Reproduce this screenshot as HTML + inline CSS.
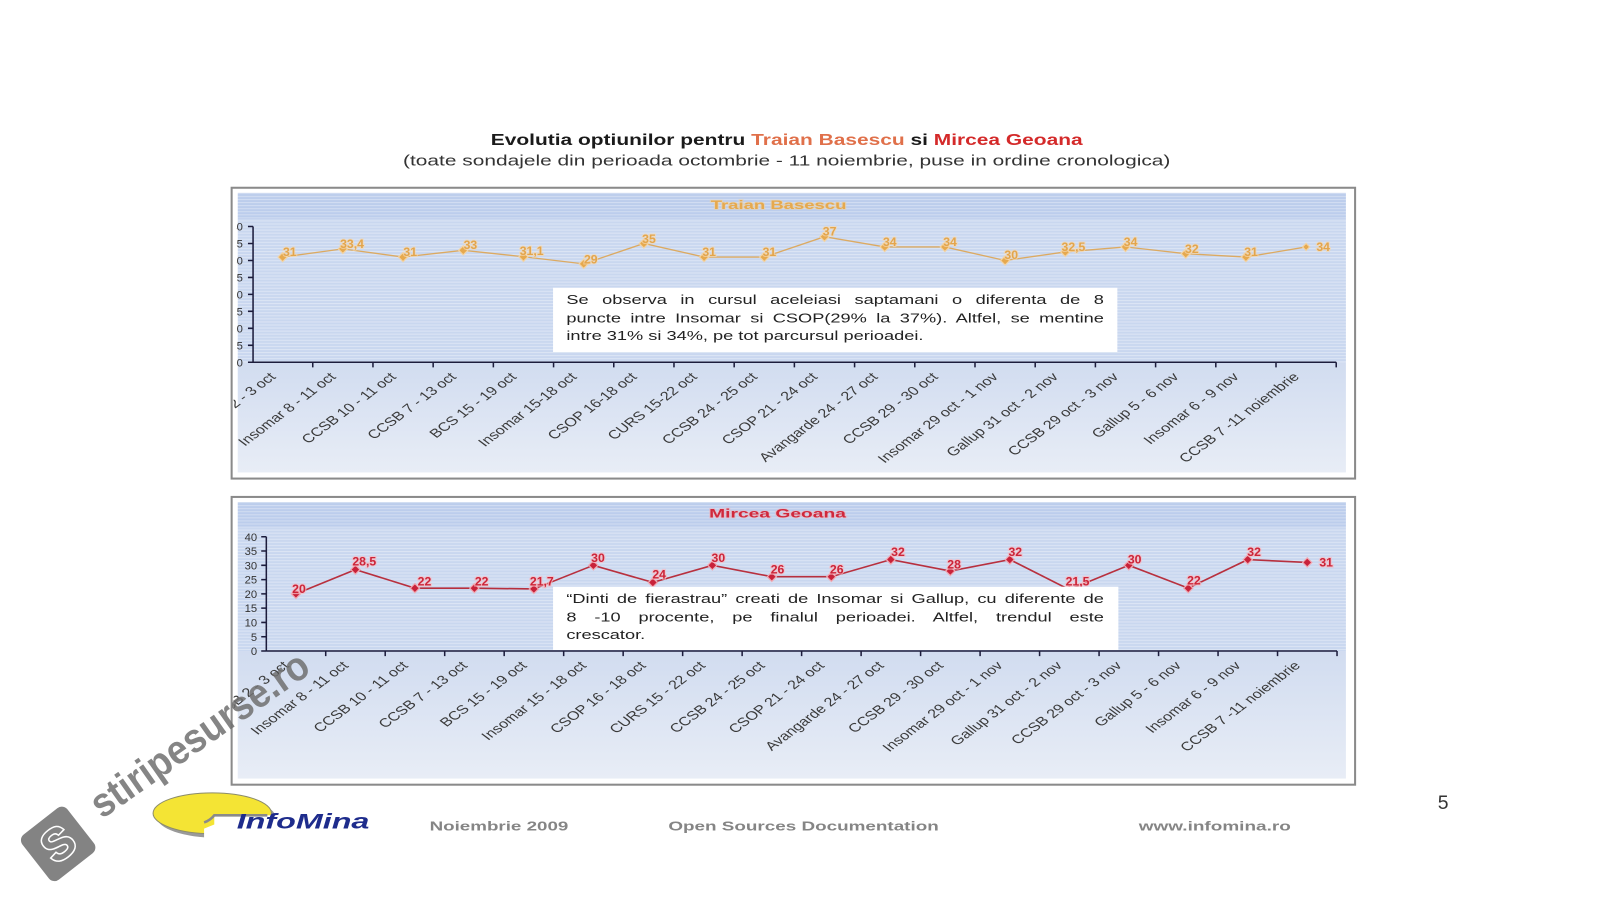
<!DOCTYPE html>
<html>
<head>
<meta charset="utf-8">
<style>
  html,body{margin:0;padding:0;background:#fff;}
  body{width:1600px;height:900px;position:relative;overflow:hidden;font-family:"Liberation Sans",Arial,sans-serif;}
  #wrap{position:absolute;left:0;top:0;width:1600px;height:900px;transform-origin:0 0;transform:scale(1.0204);}
  svg{position:absolute;left:0;top:0;}
  .note{position:absolute;font-family:"Liberation Sans",Arial,sans-serif;font-size:13px;color:#222;transform-origin:0 0;transform:scaleX(1.372);width:384px;line-height:17.5px;}
  .note div{text-align:justify;text-align-last:justify;white-space:normal;}
  .note div.last{text-align-last:left;}
</style>
</head>
<body>
<div id="wrap">
<svg width="1600" height="900" viewBox="0 0 1600 900" xmlns="http://www.w3.org/2000/svg" font-family="Liberation Sans, Arial, sans-serif">
  <defs>
    <pattern id="plotst" width="4" height="3" patternUnits="userSpaceOnUse">
      <rect width="4" height="3" fill="#c9d7ef"/>
      <rect width="4" height="1" fill="#dce5f5"/>
    </pattern>
    <pattern id="bandst" width="4" height="3" patternUnits="userSpaceOnUse">
      <rect width="4" height="3" fill="#bccdec"/>
      <rect width="4" height="1" fill="#d2ddf2"/>
    </pattern>
    <linearGradient id="lblg" x1="0" y1="0" x2="0" y2="1">
      <stop offset="0" stop-color="#d1dcf0"/>
      <stop offset="1" stop-color="#e8edf6"/>
    </linearGradient>
    <clipPath id="clipTop"><rect x="229" y="188" width="1092" height="277"/></clipPath>
    <clipPath id="clipYTop"><rect x="231.5" y="188" width="100" height="200"/></clipPath>
    <clipPath id="clipBot"><rect x="229" y="491" width="1092" height="274"/></clipPath>
  </defs>

  <text x="481" y="142" font-size="15" font-weight="bold" fill="#1a1a1a" textLength="580" lengthAdjust="spacingAndGlyphs">Evolutia optiunilor pentru <tspan fill="#e0704a">Traian Basescu</tspan> si <tspan fill="#d42a2a">Mircea Geoana</tspan></text>
  <text x="395" y="162" font-size="14.5" fill="#333" textLength="752" lengthAdjust="spacingAndGlyphs">(toate sondajele din perioada octombrie - 11 noiembrie, puse in ordine cronologica)</text>

  <!-- ================= TOP CHART ================= -->
  <rect x="227" y="184" width="1101" height="285" fill="#fff" stroke="#8a8a8a" stroke-width="2"/>
  <g clip-path="url(#clipTop)">
    <rect x="233" y="189" width="1086" height="26" fill="url(#bandst)"/>
    <rect x="233" y="215" width="1086" height="140" fill="url(#plotst)"/>
    <rect x="233" y="355" width="1086" height="108" fill="url(#lblg)"/>
    <text x="763" y="205" font-size="12" font-weight="bold" fill="#e6a94e" text-anchor="middle" textLength="133" lengthAdjust="spacingAndGlyphs" stroke="#f0d2a0" stroke-width="1.5" paint-order="stroke" stroke-opacity="0.6">Traian Basescu</text>

    <g font-size="11" fill="#333" text-anchor="end" clip-path="url(#clipYTop)">
      <text x="238" y="226">40</text>
      <text x="238" y="242.6">35</text>
      <text x="238" y="259.3">30</text>
      <text x="238" y="275.9">25</text>
      <text x="238" y="292.5">20</text>
      <text x="238" y="309.1">15</text>
      <text x="238" y="325.8">10</text>
      <text x="238" y="342.4">5</text>
      <text x="238" y="359">0</text>
    </g>
    <g stroke="#1c1c3c" stroke-width="1.5" fill="none">
      <line x1="248" y1="222" x2="248" y2="355"/>
      <line x1="247.5" y1="355" x2="1309.5" y2="355"/>
      <path d="M243 222H248M243 238.6H248M243 255.25H248M243 271.9H248M243 288.5H248M243 305.1H248M243 321.75H248M243 338.4H248M243 355H248"/>
      <path d="M306.5 355V360M365.5 355V360M424.5 355V360M483.5 355V360M542.5 355V360M601.5 355V360M660.5 355V360M719.5 355V360M778.5 355V360M837.5 355V360M896.5 355V360M955.5 355V360M1014.5 355V360M1073.5 355V360M1132.5 355V360M1191.5 355V360M1250.5 355V360M1309.5 355V360"/>
    </g>

    <polyline fill="none" stroke="#dcaa62" stroke-width="1.3" points="277,251.9 336,243.9 395,251.9 454,245.3 513,251.6 572,258.6 631,238.6 690,251.9 749,251.9 808,232 867,242 926,242 985,255.3 1044,246.9 1103,242 1162,248.6 1221,251.9 1280,242"/>
    <g fill="#e6a94e" stroke="#f2d3a4" stroke-width="1.2">
      <path d="M277 247.4l4.5 4.5-4.5 4.5-4.5-4.5z"/>
      <path d="M336 239.4l4.5 4.5-4.5 4.5-4.5-4.5z"/>
      <path d="M395 247.4l4.5 4.5-4.5 4.5-4.5-4.5z"/>
      <path d="M454 240.8l4.5 4.5-4.5 4.5-4.5-4.5z"/>
      <path d="M513 247.1l4.5 4.5-4.5 4.5-4.5-4.5z"/>
      <path d="M572 254.1l4.5 4.5-4.5 4.5-4.5-4.5z"/>
      <path d="M631 234.1l4.5 4.5-4.5 4.5-4.5-4.5z"/>
      <path d="M690 247.4l4.5 4.5-4.5 4.5-4.5-4.5z"/>
      <path d="M749 247.4l4.5 4.5-4.5 4.5-4.5-4.5z"/>
      <path d="M808 227.5l4.5 4.5-4.5 4.5-4.5-4.5z"/>
      <path d="M867 237.5l4.5 4.5-4.5 4.5-4.5-4.5z"/>
      <path d="M926 237.5l4.5 4.5-4.5 4.5-4.5-4.5z"/>
      <path d="M985 250.8l4.5 4.5-4.5 4.5-4.5-4.5z"/>
      <path d="M1044 242.4l4.5 4.5-4.5 4.5-4.5-4.5z"/>
      <path d="M1103 237.5l4.5 4.5-4.5 4.5-4.5-4.5z"/>
      <path d="M1162 244.1l4.5 4.5-4.5 4.5-4.5-4.5z"/>
      <path d="M1221 247.4l4.5 4.5-4.5 4.5-4.5-4.5z"/>
      <path d="M1280 238.5l3.5 3.5-3.5 3.5-3.5-3.5z"/>
    </g>
    <g font-size="12" font-weight="bold" fill="#e3a54c" text-anchor="middle" stroke="#f3d9b2" stroke-width="2" paint-order="stroke" stroke-opacity="0.7">
      <text x="284" y="251">31</text>
      <text x="345" y="243">33,4</text>
      <text x="402" y="251">31</text>
      <text x="461" y="244">33</text>
      <text x="521" y="250">31,1</text>
      <text x="579" y="258">29</text>
      <text x="636" y="238">35</text>
      <text x="695" y="251">31</text>
      <text x="754" y="251">31</text>
      <text x="813" y="231">37</text>
      <text x="872" y="241">34</text>
      <text x="931" y="241">34</text>
      <text x="991" y="254">30</text>
      <text x="1052" y="246">32,5</text>
      <text x="1108" y="241">34</text>
      <text x="1168" y="248">32</text>
      <text x="1226" y="251">31</text>
      <text x="1290" y="246" text-anchor="start">34</text>
    </g>

    <rect x="542" y="282" width="553" height="63" fill="#fff"/>

    <g font-size="12" fill="#3a3a3a" text-anchor="end">
      <text transform="translate(271,370) scale(1.33,1) rotate(-45)">CCSB 2 - 3 oct</text>
      <text transform="translate(330,370) scale(1.33,1) rotate(-45)">Insomar 8 - 11 oct</text>
      <text transform="translate(389,370) scale(1.33,1) rotate(-45)">CCSB 10 - 11 oct</text>
      <text transform="translate(448,370) scale(1.33,1) rotate(-45)">CCSB 7 - 13 oct</text>
      <text transform="translate(507,370) scale(1.33,1) rotate(-45)">BCS 15 - 19 oct</text>
      <text transform="translate(566,370) scale(1.33,1) rotate(-45)">Insomar 15-18 oct</text>
      <text transform="translate(625,370) scale(1.33,1) rotate(-45)">CSOP 16-18 oct</text>
      <text transform="translate(684,370) scale(1.33,1) rotate(-45)">CURS 15-22 oct</text>
      <text transform="translate(743,370) scale(1.33,1) rotate(-45)">CCSB 24 - 25 oct</text>
      <text transform="translate(802,370) scale(1.33,1) rotate(-45)">CSOP 21 - 24 oct</text>
      <text transform="translate(861,370) scale(1.33,1) rotate(-45)">Avangarde 24 - 27 oct</text>
      <text transform="translate(920,370) scale(1.33,1) rotate(-45)">CCSB 29 - 30 oct</text>
      <text transform="translate(979,370) scale(1.33,1) rotate(-45)">Insomar 29 oct - 1 nov</text>
      <text transform="translate(1038,370) scale(1.33,1) rotate(-45)">Gallup 31 oct - 2 nov</text>
      <text transform="translate(1097,370) scale(1.33,1) rotate(-45)">CCSB 29 oct - 3 nov</text>
      <text transform="translate(1156,370) scale(1.33,1) rotate(-45)">Gallup 5 - 6 nov</text>
      <text transform="translate(1215,370) scale(1.33,1) rotate(-45)">Insomar 6 - 9 nov</text>
      <text transform="translate(1274,370) scale(1.33,1) rotate(-45)">CCSB 7 -11 noiembrie</text>
    </g>
  </g>

  <!-- ================= BOTTOM CHART ================= -->
  <rect x="227" y="487" width="1101" height="282" fill="#fff" stroke="#8a8a8a" stroke-width="2"/>
  <g clip-path="url(#clipBot)">
    <rect x="233" y="492" width="1086" height="25" fill="url(#bandst)"/>
    <rect x="233" y="517" width="1086" height="121" fill="url(#plotst)"/>
    <rect x="233" y="638" width="1086" height="125" fill="url(#lblg)"/>
    <text x="762" y="507" font-size="12" font-weight="bold" fill="#d0283c" text-anchor="middle" textLength="134" lengthAdjust="spacingAndGlyphs" stroke="#f0b4bc" stroke-width="1.5" paint-order="stroke" stroke-opacity="0.6">Mircea Geoana</text>

    <g font-size="11" fill="#333" text-anchor="end">
      <text x="252" y="530">40</text>
      <text x="252" y="544">35</text>
      <text x="252" y="558">30</text>
      <text x="252" y="572">25</text>
      <text x="252" y="586">20</text>
      <text x="252" y="600">15</text>
      <text x="252" y="614">10</text>
      <text x="252" y="628">5</text>
      <text x="252" y="642">0</text>
    </g>
    <g stroke="#1c1c3c" stroke-width="1.5" fill="none">
      <line x1="261" y1="526" x2="261" y2="638"/>
      <line x1="260.9" y1="638" x2="1310.3" y2="638"/>
      <path d="M256 526H261M256 540H261M256 554H261M256 568H261M256 582H261M256 596H261M256 610H261M256 624H261M256 638H261"/>
      <path d="M319.2 638V643M377.5 638V643M435.8 638V643M494.1 638V643M552.4 638V643M610.7 638V643M669 638V643M727.3 638V643M785.6 638V643M843.9 638V643M902.2 638V643M960.5 638V643M1018.8 638V643M1077.1 638V643M1135.4 638V643M1193.7 638V643M1252 638V643M1310.3 638V643"/>
    </g>

    <polyline fill="none" stroke="#b8303e" stroke-width="1.6" points="290,582 348.3,558.2 406.6,576.4 464.9,576.4 523.2,577.2 581.5,554 639.8,570.8 698.1,554 756.4,565.2 814.7,565.2 873,548.4 931.3,559.6 989.6,548.4 1047.9,577.8 1106.2,554 1164.5,576.4 1222.8,548.4 1281.1,551.2"/>
    <g fill="#c8223a" stroke="#f0a8b2" stroke-width="1.2">
      <path d="M290 577.5l4.5 4.5-4.5 4.5-4.5-4.5z"/>
      <path d="M348.3 553.7l4.5 4.5-4.5 4.5-4.5-4.5z"/>
      <path d="M406.6 571.9l4.5 4.5-4.5 4.5-4.5-4.5z"/>
      <path d="M464.9 571.9l4.5 4.5-4.5 4.5-4.5-4.5z"/>
      <path d="M523.2 572.7l4.5 4.5-4.5 4.5-4.5-4.5z"/>
      <path d="M581.5 549.5l4.5 4.5-4.5 4.5-4.5-4.5z"/>
      <path d="M639.8 566.3l4.5 4.5-4.5 4.5-4.5-4.5z"/>
      <path d="M698.1 549.5l4.5 4.5-4.5 4.5-4.5-4.5z"/>
      <path d="M756.4 560.7l4.5 4.5-4.5 4.5-4.5-4.5z"/>
      <path d="M814.7 560.7l4.5 4.5-4.5 4.5-4.5-4.5z"/>
      <path d="M873 543.9l4.5 4.5-4.5 4.5-4.5-4.5z"/>
      <path d="M931.3 555.1l4.5 4.5-4.5 4.5-4.5-4.5z"/>
      <path d="M989.6 543.9l4.5 4.5-4.5 4.5-4.5-4.5z"/>
      <path d="M1047.9 573.3l4.5 4.5-4.5 4.5-4.5-4.5z"/>
      <path d="M1106.2 549.5l4.5 4.5-4.5 4.5-4.5-4.5z"/>
      <path d="M1164.5 571.9l4.5 4.5-4.5 4.5-4.5-4.5z"/>
      <path d="M1222.8 543.9l4.5 4.5-4.5 4.5-4.5-4.5z"/>
      <path d="M1281.1 546.7l4.5 4.5-4.5 4.5-4.5-4.5z"/>
    </g>
    <g font-size="12" font-weight="bold" fill="#cc2438" text-anchor="middle" stroke="#f5bcc4" stroke-width="2.2" paint-order="stroke" stroke-opacity="0.75">
      <text x="293" y="581">20</text>
      <text x="357" y="554">28,5</text>
      <text x="416" y="574">22</text>
      <text x="472" y="574">22</text>
      <text x="531" y="574">21,7</text>
      <text x="586" y="551">30</text>
      <text x="646" y="567">24</text>
      <text x="704" y="551">30</text>
      <text x="762" y="562">26</text>
      <text x="820" y="562">26</text>
      <text x="880" y="545">32</text>
      <text x="935" y="557">28</text>
      <text x="995" y="545">32</text>
      <text x="1056" y="574">21,5</text>
      <text x="1112" y="552">30</text>
      <text x="1170" y="573">22</text>
      <text x="1229" y="545">32</text>
      <text x="1293" y="555" text-anchor="start">31</text>
    </g>

    <rect x="542" y="575" width="554" height="62" fill="#fff"/>

    <g font-size="12" fill="#3a3a3a" text-anchor="end">
      <text transform="translate(284,653) scale(1.33,1) rotate(-45)">CCSB 2 - 3 oct</text>
      <text transform="translate(342.3,653) scale(1.33,1) rotate(-45)">Insomar 8 - 11 oct</text>
      <text transform="translate(400.6,653) scale(1.33,1) rotate(-45)">CCSB 10 - 11 oct</text>
      <text transform="translate(458.9,653) scale(1.33,1) rotate(-45)">CCSB 7 - 13 oct</text>
      <text transform="translate(517.2,653) scale(1.33,1) rotate(-45)">BCS 15 - 19 oct</text>
      <text transform="translate(575.5,653) scale(1.33,1) rotate(-45)">Insomar 15 - 18 oct</text>
      <text transform="translate(633.8,653) scale(1.33,1) rotate(-45)">CSOP 16 - 18 oct</text>
      <text transform="translate(692.1,653) scale(1.33,1) rotate(-45)">CURS 15 - 22 oct</text>
      <text transform="translate(750.4,653) scale(1.33,1) rotate(-45)">CCSB 24 - 25 oct</text>
      <text transform="translate(808.7,653) scale(1.33,1) rotate(-45)">CSOP 21 - 24 oct</text>
      <text transform="translate(867,653) scale(1.33,1) rotate(-45)">Avangarde 24 - 27 oct</text>
      <text transform="translate(925.3,653) scale(1.33,1) rotate(-45)">CCSB 29 - 30 oct</text>
      <text transform="translate(983.6,653) scale(1.33,1) rotate(-45)">Insomar 29 oct - 1 nov</text>
      <text transform="translate(1041.9,653) scale(1.33,1) rotate(-45)">Gallup 31 oct - 2 nov</text>
      <text transform="translate(1100.2,653) scale(1.33,1) rotate(-45)">CCSB 29 oct - 3 nov</text>
      <text transform="translate(1158.5,653) scale(1.33,1) rotate(-45)">Gallup 5 - 6 nov</text>
      <text transform="translate(1216.8,653) scale(1.33,1) rotate(-45)">Insomar 6 - 9 nov</text>
      <text transform="translate(1275.1,653) scale(1.33,1) rotate(-45)">CCSB 7 -11 noiembrie</text>
    </g>
  </g>

  <!-- ================= FOOTER ================= -->
  <ellipse cx="212" cy="801" rx="58" ry="20" fill="#9a9a9a"/>
  <ellipse cx="208" cy="797" rx="58" ry="20" fill="#f4e434" stroke="#8c8c6a" stroke-width="1"/>
  <path d="M210 799 H272 V826 H200 V812 Q205 810 210 808 Z" fill="#fff"/>
  <path d="M200 806 Q206 804 210 799 H262" fill="none" stroke="#8a8a8a" stroke-width="2.5"/>
  <text x="232" y="812" font-size="21" font-weight="bold" font-style="italic" fill="#1e2c8c" textLength="130" lengthAdjust="spacingAndGlyphs">InfoMina</text>

  <text x="421" y="814" font-size="13" font-weight="bold" fill="#858585" textLength="136" lengthAdjust="spacingAndGlyphs">Noiembrie 2009</text>
  <text x="655" y="814" font-size="13" font-weight="bold" fill="#858585" textLength="265" lengthAdjust="spacingAndGlyphs">Open Sources Documentation</text>
  <text x="1116" y="814" font-size="13" font-weight="bold" fill="#858585" textLength="149" lengthAdjust="spacingAndGlyphs">www.infomina.ro</text>
  <text x="1409" y="793" font-size="19" fill="#333">5</text>

  <!-- watermark -->
  <g opacity="0.85">
    <g transform="translate(57,827) rotate(-38)">
      <rect x="-28" y="-28" width="56" height="56" rx="7" fill="#6e6e6e"/>
      <text x="0" y="15" font-size="44" font-weight="bold" fill="#6e6e6e" stroke="#ffffff" stroke-width="3" paint-order="stroke" text-anchor="middle">S</text>
    </g>
    <text transform="translate(100,803) rotate(-35)" font-size="40" font-weight="bold" fill="#707070" textLength="252" lengthAdjust="spacingAndGlyphs">stiripesurse.ro</text>
  </g>
</svg>

<div class="note" style="left:555px;top:285px;">
  <div>Se observa in cursul aceleiasi saptamani o diferenta de 8</div>
  <div>puncte intre Insomar si CSOP(29% la 37%). Altfel, se mentine</div>
  <div class="last">intre 31% si 34%, pe tot parcursul perioadei.</div>
</div>
<div class="note" style="left:555px;top:578px;">
  <div>“Dinti de fierastrau” creati de Insomar si Gallup, cu diferente de</div>
  <div>8 -10 procente, pe finalul perioadei. Altfel, trendul este</div>
  <div class="last">crescator.</div>
</div>
</div>
</body>
</html>
